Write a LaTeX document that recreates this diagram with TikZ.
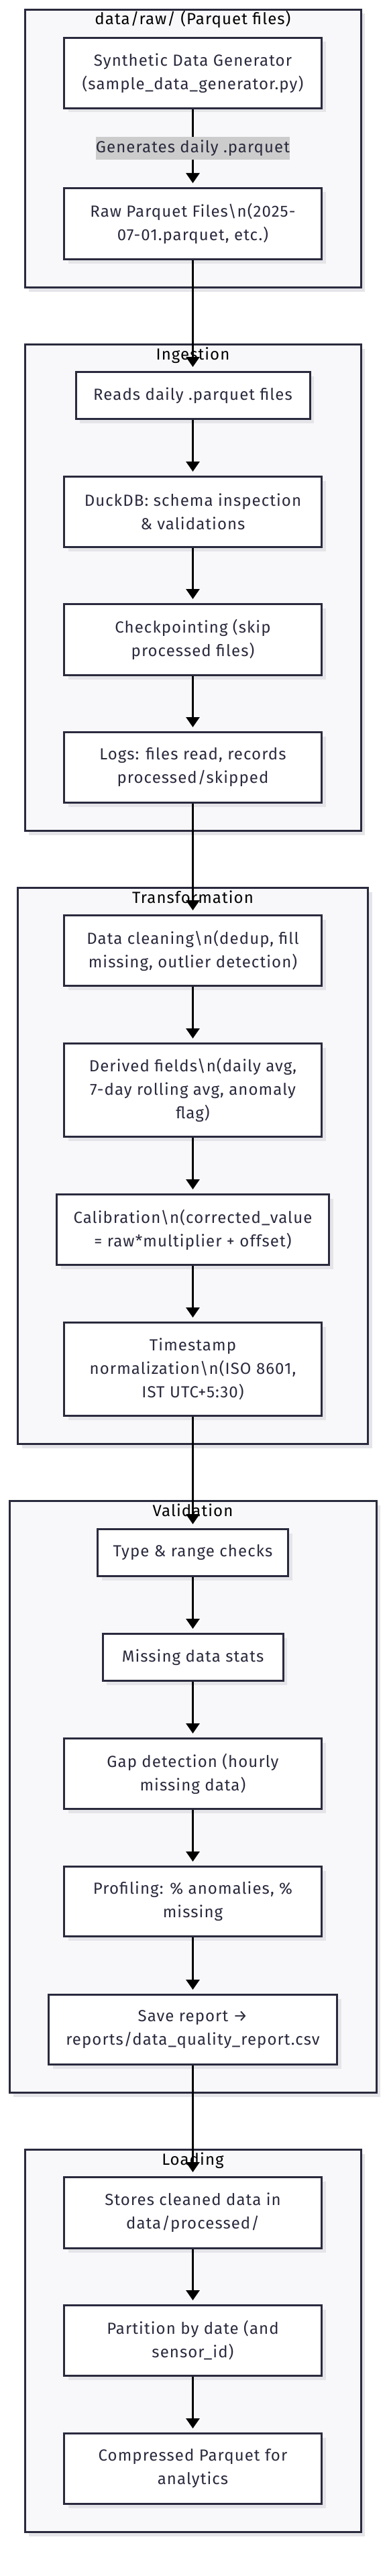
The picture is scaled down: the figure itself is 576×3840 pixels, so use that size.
\documentclass[tikz,border=0pt]{standalone}
\usepackage{fontspec}
\setmainfont{Fira Sans}[LetterSpace=4.5]
\usetikzlibrary{arrows.meta,shadows}

\definecolor{ink}{RGB}{42,42,62}
\definecolor{clusterfill}{RGB}{248,248,250}
\definecolor{shadowgray}{RGB}{229,229,233}
\definecolor{lblgray}{RGB}{204,204,204}

\tikzset{
  softshadow/.style={drop shadow={shadow xshift=6pt, shadow yshift=-6pt, fill=shadowgray, opacity=1}},
  stage/.style={draw=ink, line width=3pt, fill=white, text=ink, align=center,
    font=\fontsize{24}{35}\selectfont, inner sep=0pt, minimum width=384pt, softshadow},
  cluster/.style={draw=ink, line width=3pt, fill=clusterfill, inner sep=0pt, softshadow},
  ctitle/.style={text=black, font=\fontsize{24}{30}\selectfont, inner sep=0pt, anchor=base},
  edgelbl/.style={fill=lblgray, text=ink, font=\fontsize{24}{30}\selectfont, inner sep=0pt,
    minimum width=288pt, minimum height=34pt},
  flow/.style={draw=black, line width=3pt, -{Triangle[width=20pt,length=15pt]}, shorten >=6pt}
}

\begin{document}
\begin{tikzpicture}[x=1pt, y=-1pt]
  \useasboundingbox (0,0) rectangle (576,3840);

  % subgraph boxes
  \node[cluster, minimum width=501pt, minimum height=414pt] (rawbox) at (287.5,221.5) {};
  \node[cluster, minimum width=501pt, minimum height=725pt] (ingbox) at (287.5,876) {};
  \node[cluster, minimum width=522pt, minimum height=829pt] (trfbox) at (287.5,1738) {};
  \node[cluster, minimum width=547pt, minimum height=882pt] (valbox) at (287.5,2678.5) {};
  \node[cluster, minimum width=501pt, minimum height=570pt] (loadbox) at (287.5,3489.5) {};
  \node[ctitle] (rawtitle) at (287.5,37) {data/raw/ (Parquet files)};
  \node[ctitle] (ingtitle) at (287.5,536) {Ingestion};
  \node[ctitle] (trftitle) at (287.5,1346) {Transformation};
  \node[ctitle] (valtitle) at (287.5,2260) {Validation};
  \node[ctitle] (loadtitle) at (287.5,3227) {Loading};

  % data/raw
  \node[stage, minimum height=105pt] (synth) at (287.5,109) {Synthetic Data Generator\\(sample\_data\_generator.py)};
  \node[stage, minimum height=106pt] (raw) at (287.5,333.5) {Raw Parquet Files\textbackslash n(2025-\\07-01.parquet, etc.)};

  % ingestion
  \node[stage, minimum width=349pt, minimum height=70pt] (reads) at (287.5,589.5) {Reads daily .parquet files};
  \node[stage, minimum height=105pt] (duck) at (287.5,763) {DuckDB: schema inspection\\\& validations};
  \node[stage, minimum height=106pt] (check) at (287.5,953.5) {Checkpointing (skip\\processed files)};
  \node[stage, minimum height=105pt] (logs) at (287.5,1144) {Logs: files read, records\\processed/skipped};

  % transformation
  \node[stage, minimum height=105pt] (clean) at (287.5,1417) {Data cleaning\textbackslash n(dedup, fill\\missing, outlier detection)};
  \node[stage, minimum height=139pt] (derived) at (287.5,1625) {Derived fields\textbackslash n(daily avg,\\7-day rolling avg, anomaly\\flag)};
  \node[stage, minimum width=406pt, minimum height=105pt] (calib) at (287.5,1833) {Calibration\textbackslash n(corrected\_value\\= raw*multiplier + offset)};
  \node[stage, minimum height=139pt] (stamp) at (287.5,2041) {Timestamp\\normalization\textbackslash n(ISO 8601,\\IST UTC+5:30)};

  % validation
  \node[stage, minimum width=284pt, minimum height=70pt] (types) at (287.5,2314.5) {Type \& range checks};
  \node[stage, minimum width=269pt, minimum height=70pt] (missing) at (287.5,2470.5) {Missing data stats};
  \node[stage, minimum height=105pt] (gap) at (287.5,2644) {Gap detection (hourly\\missing data)};
  \node[stage, minimum height=104pt] (profile) at (287.5,2834.5) {Profiling: \% anomalies, \%\\missing};
  \node[stage, minimum width=430pt, minimum height=104pt] (save) at (287.5,3025.5) {Save report →\\reports/data\_quality\_report.csv};

  % loading
  \node[stage, minimum height=106pt] (stores) at (287.5,3298.5) {Stores cleaned data in\\data/processed/};
  \node[stage, minimum height=105pt] (part) at (287.5,3489) {Partition by date (and\\sensor\_id)};
  \node[stage, minimum height=105pt] (compr) at (287.5,3680) {Compressed Parquet for\\analytics};

  % edges
  \draw[flow] (synth) -- node[edgelbl] (genlbl) {Generates daily .parquet} (raw);
  \foreach \a/\b in {raw/reads, reads/duck, duck/check, check/logs, logs/clean,
                     clean/derived, derived/calib, calib/stamp, stamp/types,
                     types/missing, missing/gap, gap/profile, profile/save,
                     save/stores, stores/part, part/compr}
    \draw[flow] (\a) -- (\b);
\end{tikzpicture}
\end{document}
